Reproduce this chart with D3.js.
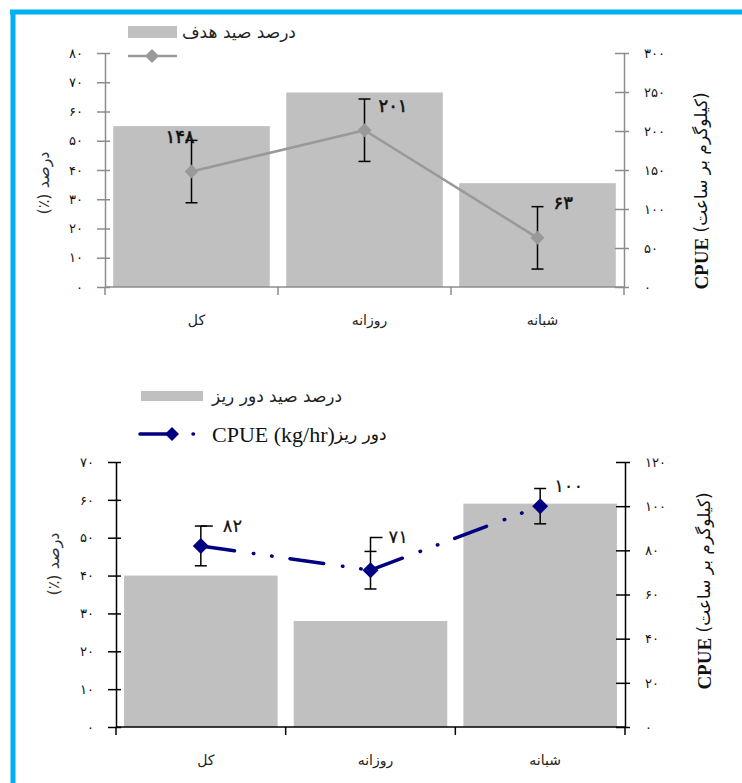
<!DOCTYPE html>
<html>
<head>
<meta charset="utf-8">
<script src="https://cdnjs.cloudflare.com/ajax/libs/d3/7.8.5/d3.min.js"></script>
<style>
  body { margin: 0; background: #fff; }
  svg { display: block; }
  text { font-family: "DejaVu Sans", sans-serif; }
</style>
</head>
<body>
<div id="chart"></div>
<script>
const categories = ["کل", "روزانه", "شبانه"];

// top panel - target catch
const targetPct = [55, 66.5, 35.5];
const targetCpue = [148, 201, 63];
const targetErr = [40, 40, 40];

// bottom panel - discard
const discardPct = [40, 28, 59];
const discardCpue = [82, 71, 100];
const discardErr = [9, 8.5, 8];

const topPctTicks = [0, 10, 20, 30, 40, 50, 60, 70, 80];
const topCpueTicks = [0, 50, 100, 150, 200, 250, 300];
const botPctTicks = [0, 10, 20, 30, 40, 50, 60, 70];
const botCpueTicks = [0, 20, 40, 60, 80, 100, 120];

const leftTitle = "درصد (٪)";
const rightTitle = ["CPUE", " (کیلوگرم بر ساعت)"];
const topBarLegend = "درصد صید هدف";
const botBarLegend = "درصد صید دور ریز";
const botLineLegend = ["CPUE (kg/hr)", "دور ریز"];

const toFa = v => String(v).replace(/\d/g, d => "۰۱۲۳۴۵۶۷۸۹"[+d]);
const diamond = s => `M0,${-s}L${s},0L0,${s}L${-s},0Z`;

const width = 742, height = 783;
const svg = d3.select("#chart").append("svg")
    .attr("width", width)
    .attr("height", height);

// blue frame (top and left edges)
svg.append("line").attr("x1", 10).attr("x2", width).attr("y1", 12).attr("y2", 12)
    .attr("stroke", "#00b0f0").attr("stroke-width", 5);
svg.append("line").attr("x1", 13).attr("x2", 13).attr("y1", 10).attr("y2", height)
    .attr("stroke", "#00b0f0").attr("stroke-width", 5);

function panel(o) {
    const g = svg.append("g");

    const x = d3.scaleBand().domain(categories)
        .range([o.x0, o.x1]).paddingInner(0.095).paddingOuter(0.0475);
    const yL = d3.scaleLinear().domain([0, o.pctMax]).range([o.y1, o.y0]);
    const yR = d3.scaleLinear().domain([0, o.cpueMax]).range([o.y1, o.y0]);
    const cx = c => x(c) + x.bandwidth() / 2;

    // bars
    g.selectAll("rect.bar").data(categories).enter().append("rect")
        .attr("x", d => x(d))
        .attr("y", (d, i) => yL(o.pct[i]))
        .attr("width", x.bandwidth())
        .attr("height", (d, i) => o.y1 - yL(o.pct[i]))
        .attr("fill", "#c0c0c0");

    // category axis
    g.append("line").attr("x1", o.x0).attr("x2", o.x1)
        .attr("y1", o.y1).attr("y2", o.y1)
        .attr("stroke", o.axisColor).attr("stroke-width", 1.5);
    const bounds = d3.range(categories.length + 1).map(i => o.x0 + i * x.step());
    g.selectAll("line.ctick").data(bounds).enter().append("line")
        .attr("x1", d => d).attr("x2", d => d)
        .attr("y1", o.y1).attr("y2", o.y1 + 8)
        .attr("stroke", o.axisColor).attr("stroke-width", 1.5);
    g.selectAll("text.cat").data(categories).enter().append("text")
        .attr("x", d => cx(d) + 5)
        .attr("y", o.y1 + 33)
        .attr("text-anchor", "middle")
        .attr("dominant-baseline", "central")
        .attr("font-size", 14)
        .attr("fill", "#222")
        .text(d => d);

    // left axis
    const la = g.append("g").attr("transform", `translate(${o.x0},0)`)
        .call(d3.axisLeft(yL).tickValues(o.pctTicks).tickFormat(toFa)
            .tickSize(8).tickPadding(14).tickSizeOuter(0));
    la.selectAll(".tick line").attr("x1", 5);
    // right axis
    const ra = g.append("g").attr("transform", `translate(${o.x1},0)`)
        .call(d3.axisRight(yR).tickValues(o.cpueTicks).tickFormat(toFa)
            .tickSize(5).tickPadding(15).tickSizeOuter(0));
    ra.selectAll(".tick line").attr("x1", -9);
    [la, ra].forEach(a => {
        a.select(".domain").attr("stroke", o.axisColor).attr("stroke-width", 1.5);
        a.selectAll(".tick line").attr("stroke", o.axisColor).attr("stroke-width", 1.5);
        a.selectAll(".tick text").attr("font-size", 13).attr("fill", "#111")
            .attr("letter-spacing", 2)
            .attr("font-family", "DejaVu Sans");
    });

    // axis titles
    g.append("text")
        .attr("transform", `translate(${o.leftTitleX},${o.leftTitleY}) rotate(-90)`)
        .attr("direction", "rtl")
        .attr("text-anchor", "middle").attr("dominant-baseline", "central")
        .attr("font-size", 16).attr("fill", "#333")
        .text(leftTitle);
    const rt = g.append("text")
        .attr("transform", `translate(${o.rightTitleX},${o.rightTitleY}) rotate(-90)`)
        .attr("text-anchor", "middle").attr("dominant-baseline", "central")
        .attr("fill", "#111");
    rt.append("tspan").attr("font-family", "Liberation Serif").attr("font-weight", "bold")
        .attr("font-size", 19).text(rightTitle[0]);
    rt.append("tspan").attr("font-size", 17).text(rightTitle[1]);

    // cpue line, one segment at a time so the dash pattern restarts like Excel
    const pts = categories.map((c, i) => [cx(c), yR(o.cpue[i])]);
    const segs = d3.pairs(pts);
    g.selectAll("line.seg").data(segs).enter().append("line")
        .attr("x1", d => d[0][0]).attr("y1", d => d[0][1])
        .attr("x2", d => d[1][0]).attr("y2", d => d[1][1])
        .attr("stroke", o.lineColor)
        .attr("stroke-width", o.lineWidth)
        .attr("stroke-linecap", "round")
        .attr("stroke-dasharray", o.dash);

    // error bars
    categories.forEach((c, i) => {
        const top = yR(o.cpue[i] + o.err[i]);
        const bot = yR(o.cpue[i] - o.err[i]);
        const xc = cx(c);
        const eb = g.append("g").attr("stroke", "#000").attr("stroke-width", 1.5);
        eb.append("line").attr("x1", xc).attr("x2", xc).attr("y1", top).attr("y2", bot);
        eb.append("line").attr("x1", xc - 6).attr("x2", xc + 6).attr("y1", top).attr("y2", top);
        eb.append("line").attr("x1", xc - 6).attr("x2", xc + 6).attr("y1", bot).attr("y2", bot);
        // leader lines to the data label
        if (o.leader && o.leader[i] !== null) {
            const lift = o.leader[i];
            eb.append("path")
                .attr("fill", "none")
                .attr("d", `M${xc},${top}V${top - lift}H${xc + 12}`);
        }
    });

    // markers
    g.selectAll("path.mk").data(pts).enter().append("path")
        .attr("transform", d => `translate(${d[0]},${d[1]})`)
        .attr("d", diamond(o.markerSize))
        .attr("fill", o.lineColor);

    // data labels
    categories.forEach((c, i) => {
        const top = yR(o.cpue[i] + o.err[i]);
        const lift = o.leader && o.leader[i] !== null ? o.leader[i] : 0;
        g.append("text")
            .attr("x", cx(c) + o.labelDx[i])
            .attr("y", top - lift + o.labelDy[i])
            .attr("text-anchor", o.labelAnchor[i])
            .attr("dominant-baseline", "central")
            .attr("font-size", 18)
            .attr("letter-spacing", 3)
            .attr("fill", "#111")
            .attr("stroke", "#111")
            .attr("stroke-width", o.labelStroke)
            .text(toFa(o.cpue[i]));
    });

    return g;
}

// ---- top panel
panel({
    x0: 105, x1: 624, y0: 53, y1: 287,
    pct: targetPct, cpue: targetCpue, err: targetErr,
    pctMax: 80, cpueMax: 300,
    pctTicks: topPctTicks, cpueTicks: topCpueTicks,
    axisColor: "#8c8c8c",
    lineColor: "#999999", lineWidth: 2.5, dash: null, markerSize: 7,
    labelDx: [3, 14, 16], labelDy: [-4, 6, -4],
    labelAnchor: ["end", "start", "start"], labelStroke: 0.6,
    leader: null,
    leftTitleX: 43, leftTitleY: 183,
    rightTitleX: 701, rightTitleY: 191
});

// ---- bottom panel
panel({
    x0: 116, x1: 625, y0: 462, y1: 727,
    pct: discardPct, cpue: discardCpue, err: discardErr,
    pctMax: 70, cpueMax: 120,
    pctTicks: botPctTicks, cpueTicks: botCpueTicks,
    axisColor: "#000",
    lineColor: "#000080", lineWidth: 3.5, dash: "34,19,0.5,18,0.5,18", markerSize: 8,
    labelDx: [22, 18, 14], labelDy: [-1, -1, -3],
    labelAnchor: ["start", "start", "start"], labelStroke: 0.2,
    leader: [0, 14, null],
    leftTitleX: 53, leftTitleY: 564,
    rightTitleX: 704, rightTitleY: 591
});

// ---- legends
const lg = svg.append("g");
lg.append("rect").attr("x", 128).attr("y", 26).attr("width", 49).attr("height", 12)
    .attr("fill", "#c0c0c0");
lg.append("text").attr("x", 182).attr("y", 32).attr("dominant-baseline", "central")
    .attr("font-size", 17).attr("fill", "#222").text(topBarLegend);
lg.append("line").attr("x1", 128).attr("x2", 177).attr("y1", 56).attr("y2", 56)
    .attr("stroke", "#999999").attr("stroke-width", 2.5);
lg.append("path").attr("transform", "translate(152,56)").attr("d", diamond(7))
    .attr("fill", "#999999");

lg.append("rect").attr("x", 141).attr("y", 391).attr("width", 62).attr("height", 10)
    .attr("fill", "#c0c0c0");
lg.append("text").attr("x", 212).attr("y", 396).attr("dominant-baseline", "central")
    .attr("font-size", 17).attr("fill", "#222").text(botBarLegend);
lg.append("line").attr("x1", 140).attr("x2", 205).attr("y1", 434).attr("y2", 434)
    .attr("stroke", "#000080").attr("stroke-width", 3.5).attr("stroke-linecap", "round")
    .attr("stroke-dasharray", "34,19,0.5,40");
lg.append("path").attr("transform", "translate(172,434)").attr("d", diamond(7))
    .attr("fill", "#000080");
const lt = lg.append("text").attr("x", 212).attr("y", 434).attr("dominant-baseline", "central")
    .attr("fill", "#111");
lt.append("tspan").attr("font-family", "Liberation Serif").attr("font-size", 22).text(botLineLegend[0]);
lt.append("tspan").attr("font-size", 17).text(botLineLegend[1]);
</script>
</body>
</html>
